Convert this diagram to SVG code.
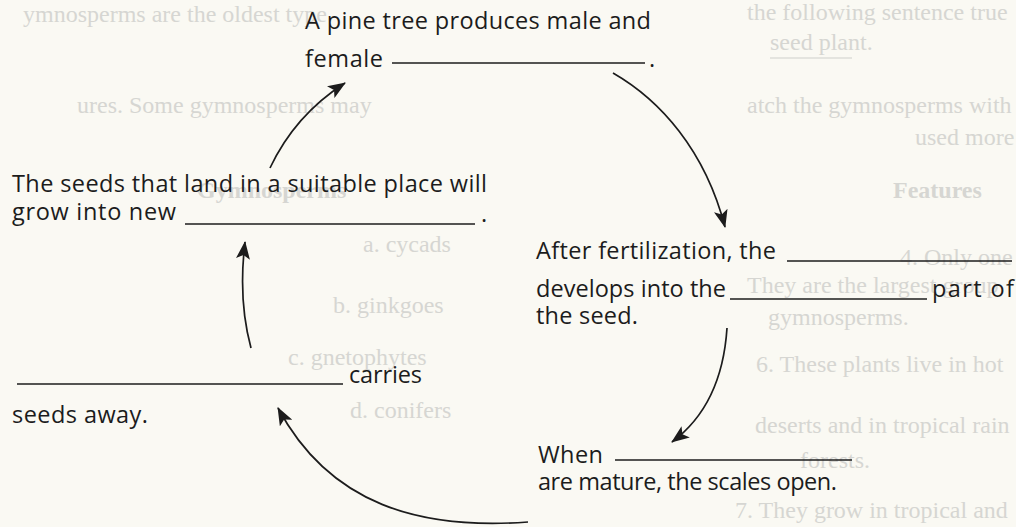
<svg xmlns="http://www.w3.org/2000/svg" width="1016" height="527" viewBox="0 0 1016 527">
<defs>
<style>
.t{font-family:"Open Sans","Liberation Sans",sans-serif;font-size:23.5px;fill:#1c1c1c}
.g{font-family:"Liberation Serif",serif;font-size:24px;fill:#d6d6d2}
.b{stroke:#1c1c1c;stroke-width:1.6}
.gb{stroke:#dcdcd8;stroke-width:1.4}
.c{fill:none;stroke:#1c1c1c;stroke-width:1.7;marker-end:url(#ah)}
</style>
<marker id="ah" markerWidth="18" markerHeight="14" refX="17" refY="7" orient="auto" markerUnits="userSpaceOnUse">
<path d="M0,0 L18,7 L0,14 L4,7 Z" fill="#1c1c1c"/>
</marker>
</defs>
<rect width="1016" height="527" fill="#faf9f3"/>
<g id="ghost">
<text class="g" x="747" y="20">the following sentence true</text>
<text class="g" x="23" y="22">ymnosperms are the oldest type</text>
<text class="g" x="770" y="50">seed plant.</text>
<line class="gb" x1="770" y1="58" x2="852" y2="58"/>
<text class="g" x="747" y="113">atch the gymnosperms with</text>
<text class="g" x="77" y="113">ures. Some gymnosperms may</text>
<text class="g" x="915" y="145">used more</text>
<text class="g" x="893" y="198" font-weight="bold">Features</text>
<text class="g" x="197" y="198" font-weight="bold">Gymnosperms</text>
<text class="g" x="900" y="265">4. Only one</text>
<text class="g" x="363" y="252">a.  cycads</text>
<text class="g" x="747" y="293">They are the largest group</text>
<text class="g" x="333" y="313">b.  ginkgoes</text>
<text class="g" x="768" y="325">gymnosperms.</text>
<text class="g" x="288" y="365">c.  gnetophytes</text>
<text class="g" x="756" y="372">6. These plants live in hot</text>
<text class="g" x="350" y="418">d.  conifers</text>
<text class="g" x="755" y="433">deserts and in tropical rain</text>
<text class="g" x="800" y="468">forests.</text>
<text class="g" x="735" y="518">7. They grow in tropical and</text>
</g>
<g id="node-pine">
<text class="t" x="305" y="29" textLength="346">A pine tree produces male and</text>
<text class="t" x="305" y="67" textLength="78">female</text>
<line class="b" x1="392" y1="63" x2="645" y2="63"/>
<text class="t" x="649" y="67">.</text>
</g>
<g id="node-fertilization">
<text class="t" x="536" y="259" textLength="240">After fertilization, the</text>
<line class="b" x1="787" y1="261" x2="1012" y2="261"/>
<text class="t" x="536" y="297" textLength="190">develops into the</text>
<line class="b" x1="730" y1="299" x2="927" y2="299"/>
<text class="t" x="932" y="297" textLength="82">part of</text>
<text class="t" x="536" y="324" textLength="102">the seed.</text>
</g>
<g id="node-mature">
<text class="t" x="538" y="463" textLength="65">When</text>
<line class="b" x1="615" y1="460" x2="852" y2="460"/>
<text class="t" x="538" y="490" textLength="299">are mature, the scales open.</text>
</g>
<g id="node-carries">
<line class="b" x1="17" y1="384" x2="343" y2="384"/>
<text class="t" x="349" y="383" textLength="73">carries</text>
<text class="t" x="12" y="423" textLength="136">seeds away.</text>
</g>
<g id="node-seeds">
<text class="t" x="12" y="192" textLength="475">The seeds that land in a suitable place will</text>
<text class="t" x="12" y="220" textLength="164">grow into new</text>
<line class="b" x1="185" y1="224" x2="475" y2="224"/>
<text class="t" x="481" y="222">.</text>
</g>
<g id="connectors">
<path class="c" d="M613,73 C660,100 705,150 725,227"/>
<path class="c" d="M727,328 Q722,405 672,442"/>
<path class="c" d="M528,522 C420,530 330,505 278,408"/>
<path class="c" d="M251,348 Q238,300 245,242"/>
<path class="c" d="M270,168 Q295,115 345,83"/>
</g>
</svg>
